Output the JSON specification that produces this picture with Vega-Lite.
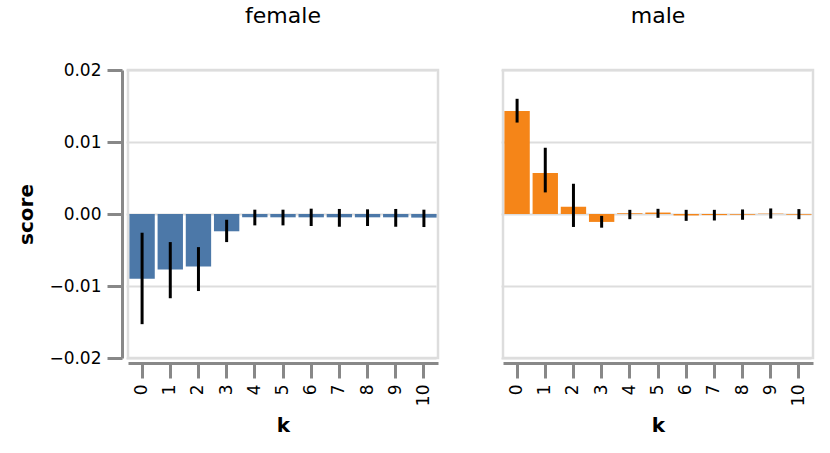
{
  "$schema": "https://vega.github.io/schema/vega-lite/v6.json",
  "padding": {"left": 16, "top": 5, "right": 5, "bottom": 5},
  "data": {
    "values": [
      {"gender": "female", "k": 0, "score": -0.0090, "lo": -0.0153, "hi": -0.0026},
      {"gender": "female", "k": 1, "score": -0.0077, "lo": -0.0117, "hi": -0.0039},
      {"gender": "female", "k": 2, "score": -0.0073, "lo": -0.0107, "hi": -0.0046},
      {"gender": "female", "k": 3, "score": -0.0024, "lo": -0.0039, "hi": -0.0008},
      {"gender": "female", "k": 4, "score": -0.00046, "lo": -0.00158, "hi": 0.0006},
      {"gender": "female", "k": 5, "score": -0.00046, "lo": -0.00158, "hi": 0.0006},
      {"gender": "female", "k": 6, "score": -0.00046, "lo": -0.00167, "hi": 0.00074},
      {"gender": "female", "k": 7, "score": -0.00046, "lo": -0.00177, "hi": 0.0007},
      {"gender": "female", "k": 8, "score": -0.00046, "lo": -0.00167, "hi": 0.00065},
      {"gender": "female", "k": 9, "score": -0.00046, "lo": -0.00177, "hi": 0.0007},
      {"gender": "female", "k": 10, "score": -0.0005, "lo": -0.00181, "hi": 0.0006},
      {"gender": "male", "k": 0, "score": 0.0143, "lo": 0.0127, "hi": 0.0160},
      {"gender": "male", "k": 1, "score": 0.0057, "lo": 0.0030, "hi": 0.0092},
      {"gender": "male", "k": 2, "score": 0.0010, "lo": -0.0018, "hi": 0.0042},
      {"gender": "male", "k": 3, "score": -0.0011, "lo": -0.0019, "hi": -0.00026},
      {"gender": "male", "k": 4, "score": 0.0001, "lo": -0.00072, "hi": 0.00058},
      {"gender": "male", "k": 5, "score": 0.0002, "lo": -0.00053, "hi": 0.00072},
      {"gender": "male", "k": 6, "score": -0.0002, "lo": -0.00095, "hi": 0.00058},
      {"gender": "male", "k": 7, "score": -0.00015, "lo": -0.0009, "hi": 0.00058},
      {"gender": "male", "k": 8, "score": -0.0001, "lo": -0.0008, "hi": 0.00063},
      {"gender": "male", "k": 9, "score": 0.00005, "lo": -0.00063, "hi": 0.00077},
      {"gender": "male", "k": 10, "score": -0.0001, "lo": -0.00072, "hi": 0.00068}
    ]
  },
  "facet": {
    "column": {
      "field": "gender",
      "type": "nominal",
      "title": null,
      "header": {"labelFontSize": 22, "labelPadding": 40, "labelFont": "DejaVu Sans"}
    }
  },
  "spacing": 59,
  "spec": {
    "width": 310,
    "height": 288,
    "layer": [
      {
        "mark": {"type": "bar"},
        "encoding": {
          "x": {"field": "k", "type": "ordinal", "axis": {"labelAngle": 270}},
          "y": {
            "field": "score",
            "type": "quantitative",
            "title": "score",
            "scale": {"domain": [-0.02, 0.02]},
            "axis": {"values": [-0.02, -0.01, 0, 0.01, 0.02], "format": ".2f"}
          },
          "color": {
            "field": "gender",
            "type": "nominal",
            "scale": {"domain": ["female", "male"], "range": ["#4c78a8", "#f58518"]},
            "legend": null
          }
        }
      },
      {
        "mark": {"type": "rule", "color": "black", "strokeWidth": 3},
        "encoding": {
          "x": {"field": "k", "type": "ordinal"},
          "y": {"field": "lo", "type": "quantitative"},
          "y2": {"field": "hi"}
        }
      }
    ]
  },
  "config": {
    "font": "DejaVu Sans",
    "view": {"stroke": "#ddd", "strokeWidth": 2.5},
    "axis": {
      "domainColor": "#888",
      "domainWidth": 3,
      "tickColor": "#888",
      "tickWidth": 3,
      "tickSize": 15,
      "labelFontSize": 17,
      "labelPadding": 6,
      "titleFontSize": 20,
      "gridColor": "#ddd",
      "gridWidth": 2
    },
    "axisY": {"offset": 2, "titlePadding": 12},
    "axisX": {"offset": 3, "titlePadding": 10}
  }
}
